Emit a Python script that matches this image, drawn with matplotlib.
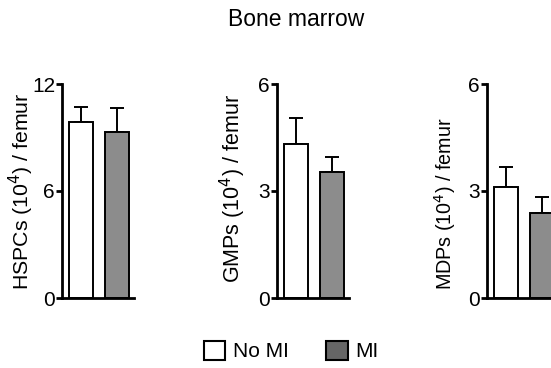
import matplotlib.pyplot as plt
from matplotlib.patches import Patch

plt.rcParams['font.family'] = ['Liberation Sans', 'DejaVu Sans']

# Daten
gruppen = ["No MI", "MI"]
farben = ["white", "#8c8c8c"]
panels = ["HSPCs", "GMPs", "MDPs"]
mittelwerte = [[9.85, 9.3], [4.32, 3.53], [3.11, 2.38]]
fehler = [[0.85, 1.35], [0.73, 0.42], [0.56, 0.45]]
ymax = [12, 6, 6]
yticks = [[0, 6, 12], [0, 3, 6], [0, 3, 6]]

fig = plt.figure(figsize=(5.51, 3.68), dpi=100)
links = [62, 277, 487]
# Beschriftung der y-Achse: Schriftgröße und Lage (Achsenkoordinaten)
label_groesse = [15.3, 15.5, 14.2]
label_pos = [(-0.56, 0.5), (-0.61, 0.51), (-0.58, 0.44)]

for i, name in enumerate(panels):
    ax = fig.add_axes([links[i] / 551, 70 / 368, 72 / 551, 214 / 368])
    ax.bar([0, 1], mittelwerte[i], width=0.68, color=farben,
           edgecolor="black", linewidth=1.4, zorder=2)
    ax.errorbar([0, 1], mittelwerte[i], yerr=[[0, 0], fehler[i]], fmt="none",
                ecolor="black", elinewidth=1.4, capsize=5, capthick=1.4, zorder=1)
    ax.set_xlim(-0.53, 1.47)
    ax.set_ylim(0, ymax[i])
    ax.set_yticks(yticks[i])
    ax.set_xticks([])
    for s in ["top", "right"]:
        ax.spines[s].set_visible(False)
    for s in ["left", "bottom"]:
        ax.spines[s].set_linewidth(2)
    ax.tick_params(axis="y", width=2, length=4, labelsize=15, pad=1)
    ax.set_ylabel(name + " (10$^{4}$) / femur", fontsize=label_groesse[i],
                  va="center")
    ax.yaxis.set_label_coords(*label_pos[i])
    ax.patch.set_alpha(0)

fig.text(296 / 551, 1 - 19 / 368, "Bone marrow", ha="center", va="center", fontsize=16.5)

# Legende
handles = [Patch(facecolor="white", edgecolor="black", linewidth=1.5),
           Patch(facecolor="#666666", edgecolor="black", linewidth=1.5)]
fig.legend(handles, gruppen, loc="center", bbox_to_anchor=(291 / 551, 1 - 351 / 368),
           ncol=2, frameon=False, fontsize=15, handlelength=1.05, handleheight=1.05,
           columnspacing=1.8, handletextpad=0.35)

fig.savefig("out.png", dpi=100)
